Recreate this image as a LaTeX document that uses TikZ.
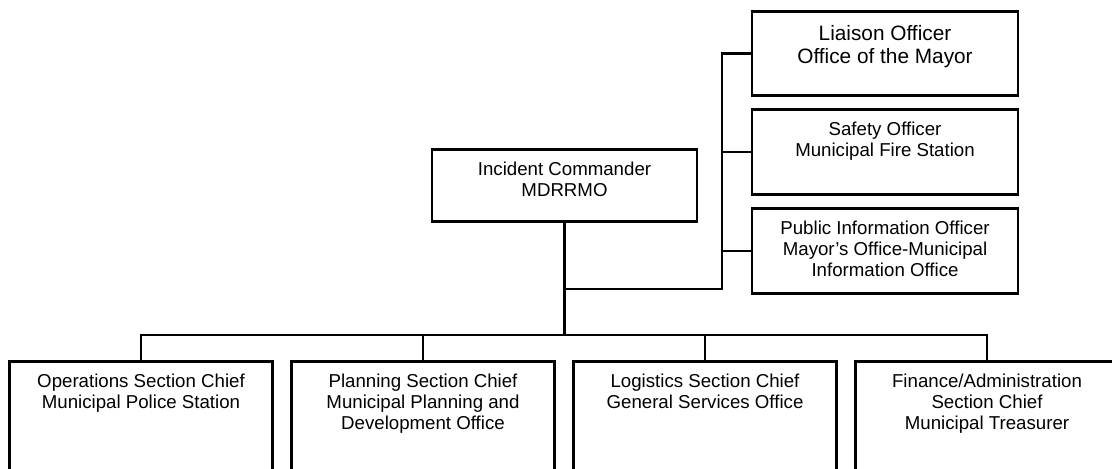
\documentclass[tikz,border=0pt]{standalone}
\usepackage{fontspec}
\setmainfont{Liberation Sans}
\usetikzlibrary{positioning,calc}
\tikzset{
  unitbox/.style={draw=black, line width=1.9pt, inner sep=0pt, anchor=north, font=\fontsize{14}{15.75}\selectfont},
  bigbox/.style={unitbox, font=\fontsize{15.6}{17.25}\selectfont},
  link/.style={draw=black, line width=1.9pt},
}
% width, height, top pad, lines
\newcommand{\boxlines}[4]{\parbox[c][#2][t]{#1}{\centering\vspace*{#3}\strut#4}}

\begin{document}
\begin{tikzpicture}[x=0.75pt,y=-0.75pt]
\useasboundingbox (0,0) rectangle (1112,468);
\clip (0,0) rectangle (1112,468);

% commander and command staff
\node[unitbox] (ic) at (564.5,148) {\boxlines{198.75pt}{54pt}{9pt}{Incident Commander\\MDRRMO}};
\node[bigbox] (liaison) at (885,10) {\boxlines{199.5pt}{63pt}{9.7pt}{Liaison Officer\\Office of the Mayor}};
\node[unitbox] (safety) at (885,108) {\boxlines{199.5pt}{63.75pt}{9pt}{Safety Officer\\Municipal Fire Station}};
\node[unitbox] (pio) at (885,207) {\boxlines{199.5pt}{63.75pt}{8.5pt}{Public Information Officer\\Mayor's Office-Municipal\\Information Office}};

% general staff
\foreach \k/\name/\txt in {
0/ops/{Operations Section Chief\\Municipal Police Station},
1/plan/{Planning Section Chief\\Municipal Planning and\\Development Office},
2/logi/{Logistics Section Chief\\General Services Office},
3/fin/{Finance/Administration\\Section Chief\\Municipal Treasurer}}{
  \node[unitbox] (\name) at (141+282*\k,360) {\boxlines{197.25pt}{97.5pt}{8.5pt}{\txt}};
}

\coordinate (busy) at (0,335);
\coordinate (spine) at (722,289);

\draw[link] (ic.south) -- (ic.south |- busy);
\draw[link] (ops.north) |- (busy -| fin.north) -- (fin.north);
\draw[link] (plan.north) -- (plan.north |- busy);
\draw[link] (logi.north) -- (logi.north |- busy);

\draw[link] (ic.south |- spine) -- (spine) |- (liaison.west);
\draw[link] (spine |- safety.west) -- (safety.west);
\draw[link] (spine |- pio.west) -- (pio.west);
\end{tikzpicture}
\end{document}
